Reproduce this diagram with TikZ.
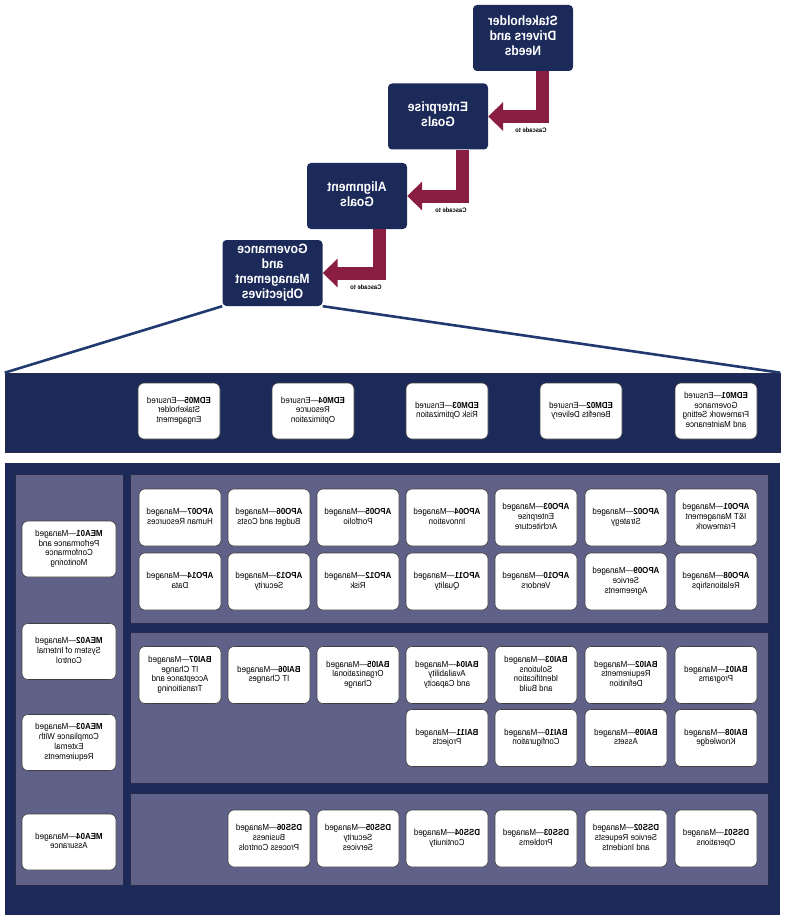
\documentclass[tikz,border=0pt]{standalone}
\usepackage{fontspec}
\usepackage{graphicx}
\usepackage{xcolor}
\usepackage{tikz}
\usetikzlibrary{arrows.meta}
\setmainfont[FakeStretch=0.9]{Liberation Sans}
\definecolor{cobitnavy}{RGB}{28,42,90}
\definecolor{panelgray}{RGB}{96,97,136}
\definecolor{paneledge}{RGB}{40,44,72}
\definecolor{cascadered}{RGB}{138,29,66}
\definecolor{fanblue}{RGB}{32,58,112}
\renewcommand{\arraystretch}{1}
% text as the picture prints it (mirrored)
\newcommand{\mirtext}[1]{\reflectbox{\begin{tabular}{@{}c@{}}#1\end{tabular}}}

\begin{document}
\begin{tikzpicture}[
    x=1pt, y=-1pt,
    % Node styles
    heading/.style={rectangle, rounded corners=4pt, fill=cobitnavy, text=white, minimum width=100pt, minimum height=66pt, inner sep=0pt, font=\fontsize{13.5}{15}\selectfont\bfseries},
    edmbox/.style={rectangle, rounded corners=6pt, draw=black!75, line width=0.6pt, fill=white, minimum width=82pt, minimum height=56pt, inner sep=0pt, font=\fontsize{8.8}{9.8}\selectfont},
    procbox/.style={edmbox, minimum height=57pt},
    meabox/.style={edmbox, minimum width=94pt},
    band/.style={rectangle, fill=cobitnavy, draw=paneledge, line width=0.6pt, inner sep=0pt},
    panel/.style={fill=panelgray, draw=paneledge, line width=0.8pt},
    cascadelabel/.style={inner sep=0pt, font=\fontsize{6.5}{7}\selectfont\bfseries},
    % Edge styles
    cascade/.style={draw=cascadered, line width=13pt, line join=miter, -{Triangle[width=28pt, length=15pt]}},
    fan/.style={draw=fanblue, line width=2.6pt}
]
\useasboundingbox (0,0) rectangle (785,920);

% Cascade of goals
\node[heading] (sdn) at (523,38) {\mirtext{Stakeholder\\Drivers and\\Needs}};
\node[heading] (eg) at (438,116.5) {\mirtext{Enterprise\\Goals}};
\node[heading] (ag) at (357,196) {\mirtext{Alignment\\Goals}};
\node[heading] (gmo) at (272.5,273) {\mirtext{Governance\\and\\Management\\Objectives}};

\node[cascadelabel] (c1) at (531,131) {\mirtext{Cascade to}};
\node[cascadelabel] (c2) at (451,211) {\mirtext{Cascade to}};
\node[cascadelabel] (c3) at (366,288) {\mirtext{Cascade to}};

% EDM band
\node[band, minimum width=775pt, minimum height=79pt] (edm) at (392.5,412.5) {};

\draw[fan] (gmo.south west) -- (edm.north west);
\draw[fan] (gmo.south east) -- (edm.north east);

\draw[cascade] ([xshift=19pt]sdn.south) |- (eg.east);
\draw[cascade] ([xshift=24pt]eg.south) |- (ag.east);
\draw[cascade] ([xshift=22pt]ag.south) |- (gmo.east);

\node[edmbox] (edm01) at (716,411) {\mirtext{\textbf{EDM01}—Ensured\\Governance\\Framework Setting\\and Maintenance}};
\node[edmbox] (edm02) at (581,411) {\mirtext{\textbf{EDM02}—Ensured\\Benefits Delivery}};
\node[edmbox] (edm03) at (447,411) {\mirtext{\textbf{EDM03}—Ensured\\Risk Optimization}};
\node[edmbox] (edm04) at (313,411) {\mirtext{\textbf{EDM04}—Ensured\\Resource\\Optimization}};
\node[edmbox] (edm05) at (179,411) {\mirtext{\textbf{EDM05}—Ensured\\Stakeholder\\Engagement}};

% Management panels
\fill[cobitnavy] (5,463) rectangle (780,915);
\draw[panel] (15,474) rectangle (123,885);
\draw[panel] (130,474) rectangle (768,623);
\draw[panel] (130,632) rectangle (768,783);
\draw[panel] (130,793) rectangle (768,885);

% MEA column
\node[meabox] (mea01) at (69,549) {\mirtext{\textbf{MEA01}—Managed\\Performance and\\Conformance\\Monitoring}};
\node[meabox] (mea02) at (69,651.5) {\mirtext{\textbf{MEA02}—Managed\\System of Internal\\Control}};
\node[meabox] (mea03) at (69,742.5) {\mirtext{\textbf{MEA03}—Managed\\Compliance With\\External\\Requirements}};
\node[meabox] (mea04) at (69,842) {\mirtext{\textbf{MEA04}—Managed\\Assurance}};

% APO - row 1
\node[procbox] (apo01) at (716,517.5) {\mirtext{\textbf{APO01}—Managed\\I\&T Management\\Framework}};
\node[procbox] (apo02) at (626,517.5) {\mirtext{\textbf{APO02}—Managed\\Strategy}};
\node[procbox] (apo03) at (536,517.5) {\mirtext{\textbf{APO03}—Managed\\Enterprise\\Architecture}};
\node[procbox] (apo04) at (447,517.5) {\mirtext{\textbf{APO04}—Managed\\Innovation}};
\node[procbox] (apo05) at (358,517.5) {\mirtext{\textbf{APO05}—Managed\\Portfolio}};
\node[procbox] (apo06) at (269,517.5) {\mirtext{\textbf{APO06}—Managed\\Budget and Costs}};
\node[procbox] (apo07) at (180,517.5) {\mirtext{\textbf{APO07}—Managed\\Human Resources}};

% APO - row 2
\node[procbox] (apo08) at (716,581.5) {\mirtext{\textbf{APO08}—Managed\\Relationships}};
\node[procbox] (apo09) at (626,581.5) {\mirtext{\textbf{APO09}—Managed\\Service\\Agreements}};
\node[procbox] (apo10) at (536,581.5) {\mirtext{\textbf{APO10}—Managed\\Vendors}};
\node[procbox] (apo11) at (447,581.5) {\mirtext{\textbf{APO11}—Managed\\Quality}};
\node[procbox] (apo12) at (358,581.5) {\mirtext{\textbf{APO12}—Managed\\Risk}};
\node[procbox] (apo13) at (269,581.5) {\mirtext{\textbf{APO13}—Managed\\Security}};
\node[procbox] (apo14) at (180,581.5) {\mirtext{\textbf{APO14}—Managed\\Data}};

% BAI - row 1
\node[procbox] (bai01) at (716,675) {\mirtext{\textbf{BAI01}—Managed\\Programs}};
\node[procbox] (bai02) at (626,675) {\mirtext{\textbf{BAI02}—Managed\\Requirements\\Definition}};
\node[procbox] (bai03) at (536,675) {\mirtext{\textbf{BAI03}—Managed\\Solutions\\Identification\\and Build}};
\node[procbox] (bai04) at (447,675) {\mirtext{\textbf{BAI04}—Managed\\Availability\\and Capacity}};
\node[procbox] (bai05) at (358,675) {\mirtext{\textbf{BAI05}—Managed\\Organizational\\Change}};
\node[procbox] (bai06) at (269,675) {\mirtext{\textbf{BAI06}—Managed\\IT Changes}};
\node[procbox] (bai07) at (180,675) {\mirtext{\textbf{BAI07}—Managed\\IT Change\\Acceptance and\\Transitioning}};

% BAI - row 2
\node[procbox] (bai08) at (716,738) {\mirtext{\textbf{BAI08}—Managed\\Knowledge}};
\node[procbox] (bai09) at (626,738) {\mirtext{\textbf{BAI09}—Managed\\Assets}};
\node[procbox] (bai10) at (536,738) {\mirtext{\textbf{BAI10}—Managed\\Configuration}};
\node[procbox] (bai11) at (447,738) {\mirtext{\textbf{BAI11}—Managed\\Projects}};

% DSS row
\node[procbox] (dss01) at (716,838.5) {\mirtext{\textbf{DSS01}—Managed\\Operations}};
\node[procbox] (dss02) at (626,838.5) {\mirtext{\textbf{DSS02}—Managed\\Service Requests\\and Incidents}};
\node[procbox] (dss03) at (536,838.5) {\mirtext{\textbf{DSS03}—Managed\\Problems}};
\node[procbox] (dss04) at (447,838.5) {\mirtext{\textbf{DSS04}—Managed\\Continuity}};
\node[procbox] (dss05) at (358,838.5) {\mirtext{\textbf{DSS05}—Managed\\Security\\Services}};
\node[procbox] (dss06) at (269,838.5) {\mirtext{\textbf{DSS06}—Managed\\Business\\Process Controls}};

\end{tikzpicture}
\end{document}
